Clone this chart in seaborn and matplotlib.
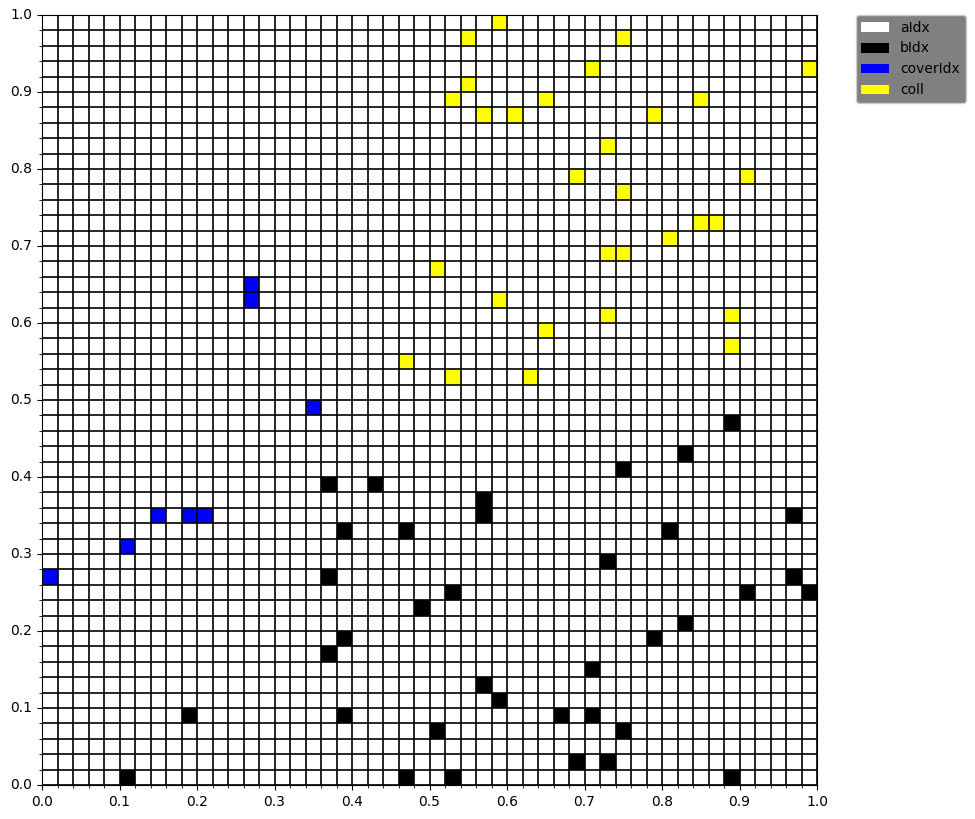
import numpy as np
import matplotlib
matplotlib.use("Agg")
import matplotlib.pyplot as plt
import seaborn as sns
from matplotlib.colors import ListedColormap
from matplotlib.patches import Patch

# grid
n_cells = 50
cell = 0.02
categories = ["aIdx", "bIdx", "coverIdx", "coll"]
cat_colors = ["white", "black", "blue", "yellow"]

# lower-left corners of coloured cells
bIdx_x = [0.88, 0.82, 0.74, 0.36, 0.42, 0.56, 0.56, 0.96, 0.38, 0.46, 0.80, 0.72,
          0.36, 0.96, 0.52, 0.90, 0.98, 0.48, 0.82, 0.38, 0.78, 0.36, 0.70, 0.56,
          0.58, 0.18, 0.38, 0.66, 0.70, 0.50, 0.74, 0.68, 0.72, 0.10, 0.46, 0.52, 0.88]
bIdx_y = [0.46, 0.42, 0.40, 0.38, 0.38, 0.36, 0.34, 0.34, 0.32, 0.32, 0.32, 0.28,
          0.26, 0.26, 0.24, 0.24, 0.24, 0.22, 0.20, 0.18, 0.18, 0.16, 0.14, 0.12,
          0.10, 0.08, 0.08, 0.08, 0.08, 0.06, 0.06, 0.02, 0.02, 0.00, 0.00, 0.00, 0.00]

coverIdx_x = [0.26, 0.26, 0.34, 0.14, 0.18, 0.20, 0.10, 0.00]
coverIdx_y = [0.64, 0.62, 0.48, 0.34, 0.34, 0.34, 0.30, 0.26]

coll_x = [0.58, 0.54, 0.74, 0.70, 0.98, 0.54, 0.52, 0.64, 0.84, 0.56, 0.60, 0.78,
          0.72, 0.68, 0.90, 0.74, 0.84, 0.86, 0.80, 0.72, 0.74, 0.50, 0.58, 0.72,
          0.88, 0.64, 0.88, 0.46, 0.52, 0.62]
coll_y = [0.98, 0.96, 0.96, 0.92, 0.92, 0.90, 0.88, 0.88, 0.88, 0.86, 0.86, 0.86,
          0.82, 0.78, 0.78, 0.76, 0.72, 0.72, 0.70, 0.68, 0.68, 0.66, 0.62, 0.60,
          0.60, 0.58, 0.56, 0.54, 0.52, 0.52]

tick_values = [0.0, 0.1, 0.2, 0.3, 0.4, 0.5, 0.6, 0.7, 0.8, 0.9, 1.0]

# build category matrix (rows = y, cols = x)
grid = np.zeros((n_cells, n_cells), dtype=int)
for code, (xs, ys) in enumerate([(bIdx_x, bIdx_y), (coverIdx_x, coverIdx_y), (coll_x, coll_y)], start=1):
    for x, y in zip(xs, ys):
        grid[int(round(y / cell)), int(round(x / cell))] = code

fig = plt.figure(figsize=(9.75, 8.19), dpi=100)
ax = fig.add_axes([42 / 975, 1 - 785 / 819, 775 / 975, 770 / 819])

sns.heatmap(grid, cmap=ListedColormap(cat_colors), vmin=-0.5, vmax=3.5, cbar=False,
            linewidths=0, ax=ax, square=False)
ax.set_ylim(0, n_cells)
ax.set_xlim(0, n_cells)

pos = [v / cell for v in tick_values]
ax.set_xticks(pos)
ax.set_xticklabels([f"{v:.1f}" for v in tick_values], rotation=0)
ax.set_yticks(pos)
ax.set_yticklabels([f"{v:.1f}" for v in tick_values], rotation=0, va="center")
ax.set_xticks(np.arange(0, n_cells + 1), minor=True)
ax.set_yticks(np.arange(0, n_cells + 1), minor=True)
ax.tick_params(which="major", length=3.5, width=0.8)
ax.tick_params(which="minor", length=2, width=0.6)
ax.grid(which="both", color="black", linewidth=1.2)
for s in ax.spines.values():
    s.set_visible(True)
    s.set_color("black")

handles = [Patch(facecolor=c, label=l) for c, l in zip(cat_colors, categories)]
leg = ax.legend(handles=handles, loc="upper left", bbox_to_anchor=(1.05, 1),
                borderaxespad=0, facecolor="gray", framealpha=1, edgecolor="0.8")

fig.savefig("out.png", dpi=100)
